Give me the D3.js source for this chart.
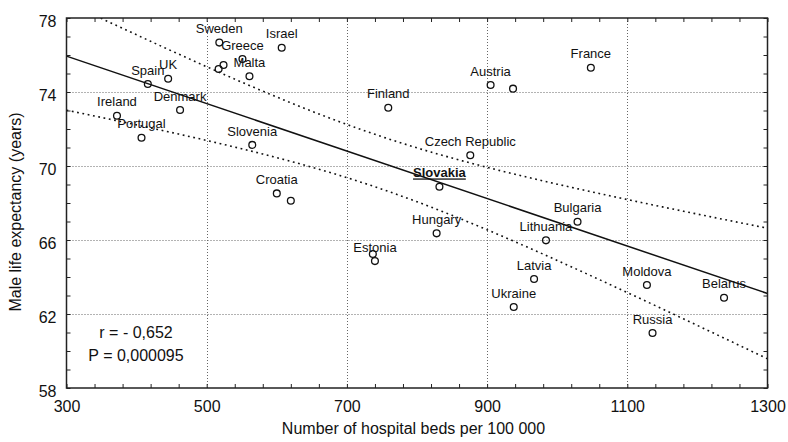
<!DOCTYPE html>
<html>
<head>
<meta charset="utf-8">
<script src="https://cdn.jsdelivr.net/npm/d3@7"></script>
<style>
  html, body { margin: 0; padding: 0; background: #fff; }
  svg { display: block; }
  text { font-family: "Liberation Sans", Arial, sans-serif; fill: #111; }
</style>
</head>
<body>
<svg id="chart" width="788" height="442"></svg>
<script>
// Hospital beds per 100 000 vs male life expectancy, one entry per country
const countries = ["Sweden", "Greece", "", "", "Malta", "Israel", "UK", "Spain", "Denmark", "Ireland",
  "Portugal", "Slovenia", "Finland", "Austria", "", "Czech Republic", "France", "Croatia", "",
  "Slovakia", "Hungary", "", "Estonia", "Bulgaria", "Lithuania", "Latvia", "Ukraine", "Moldova",
  "Belarus", "Russia"];
const beds = [518, 551, 517, 524, 561, 607, 445, 416, 462, 372,
  407, 565, 759, 905, 937, 876, 1048, 600, 620,
  832, 828, 737, 740, 1029, 984, 967, 938, 1128,
  1238, 1136];
const lifeExpectancy = [76.67, 75.78, 75.24, 75.46, 74.85, 76.39, 74.72, 74.43, 73.03, 72.72,
  71.53, 71.14, 73.15, 74.38, 74.18, 70.58, 75.31, 68.52, 68.12,
  68.88, 66.36, 65.24, 64.86, 66.99, 65.98, 63.89, 62.38, 63.57,
  62.88, 60.97];
const highlighted = "Slovakia";

const xTicks = [300, 500, 700, 900, 1100, 1300];
const yTicks = [58, 62, 66, 70, 74, 78];
const xDomain = [300, 1300];
const yDomain = [58, 78];
const statLines = ["r = - 0,652", "P = 0,000095"];
const xTitle = "Number of hospital beds per 100 000";
const yTitle = "Male life expectancy (years)";

const svg = d3.select("#chart");
const plotLeft = 66.5, plotRight = 767.5, plotTop = 18, plotBottom = 388;

const x = d3.scaleLinear().domain(xDomain).range([plotLeft, plotRight]);
const y = d3.scaleLinear().domain(yDomain).range([plotBottom, plotTop]);

// least-squares fit with a 95% confidence band for the mean
const n = beds.length;
const mx = d3.mean(beds), my = d3.mean(lifeExpectancy);
let sxx = 0, sxy = 0, syy = 0;
for (let i = 0; i < n; i++) {
  const dx = beds[i] - mx, dy = lifeExpectancy[i] - my;
  sxx += dx * dx; sxy += dx * dy; syy += dy * dy;
}
const slope = sxy / sxx;
const intercept = my - slope * mx;
const sResid = Math.sqrt((syy - slope * sxy) / (n - 2));
const tCrit = 2.048; // t(0.975, df = 28)
const fit = v => intercept + slope * v;
const halfWidth = v => tCrit * sResid * Math.sqrt(1 / n + (v - mx) * (v - mx) / sxx);
const xs = d3.range(xDomain[0], xDomain[1] + 0.001, 5);

svg.append("defs").append("clipPath").attr("id", "plotClip")
  .append("rect").attr("x", plotLeft).attr("y", plotTop)
  .attr("width", plotRight - plotLeft).attr("height", plotBottom - plotTop);

// dotted grid
const grid = svg.append("g").attr("stroke", "#666").attr("stroke-width", 1)
  .attr("stroke-dasharray", "1,2");
grid.selectAll("line.v").data(xTicks.slice(1, -1)).join("line").attr("class", "v")
  .attr("x1", d => Math.round(x(d)) + 0.5).attr("x2", d => Math.round(x(d)) + 0.5)
  .attr("y1", plotTop).attr("y2", plotBottom);
grid.selectAll("line.h").data(yTicks.slice(1, -1)).join("line").attr("class", "h")
  .attr("y1", d => Math.round(y(d)) + 0.5).attr("y2", d => Math.round(y(d)) + 0.5)
  .attr("x1", plotLeft).attr("x2", plotRight);

// fit line and confidence band
const plot = svg.append("g").attr("clip-path", "url(#plotClip)");
const line = d3.line().x(d => x(d[0])).y(d => y(d[1]));
plot.append("path")
  .attr("d", line(xDomain.map(v => [v, fit(v)])))
  .attr("fill", "none").attr("stroke", "#111").attr("stroke-width", 1.5);
[1, -1].forEach(sign => {
  plot.append("path")
    .attr("d", line(xs.map(v => [v, fit(v) + sign * halfWidth(v)])))
    .attr("fill", "none").attr("stroke", "#111").attr("stroke-width", 1.6)
    .attr("stroke-dasharray", "1.8,3.6");
});

// axes with inward ticks on all four sides
const minorX = d3.range(300, 1301, 40);
const minorY = d3.range(58, 79, 1);
svg.append("g").attr("transform", `translate(0,${plotBottom})`)
  .call(d3.axisBottom(x).tickValues(minorX).tickSize(-4).tickFormat(""))
  .call(g => g.select(".domain").remove());
svg.append("g").attr("transform", `translate(0,${plotTop})`)
  .call(d3.axisTop(x).tickValues(minorX).tickSize(-4).tickFormat(""))
  .call(g => g.select(".domain").remove());
svg.append("g").attr("transform", `translate(${plotLeft},0)`)
  .call(d3.axisLeft(y).tickValues(minorY).tickSize(-4).tickFormat(""))
  .call(g => g.select(".domain").remove());
svg.append("g").attr("transform", `translate(${plotRight},0)`)
  .call(d3.axisRight(y).tickValues(minorY).tickSize(-4).tickFormat(""))
  .call(g => g.select(".domain").remove());
svg.selectAll(".tick line").attr("stroke", "#222").attr("stroke-width", 1);

// tick labels
const xAxis = svg.append("g").attr("transform", `translate(0,${plotBottom})`)
  .call(d3.axisBottom(x).tickValues(xTicks).tickSize(0).tickPadding(13).tickFormat(d3.format("d")));
xAxis.select(".domain").remove();
xAxis.selectAll("text").attr("font-size", 16).attr("font-family", "'Liberation Sans', Arial, sans-serif")
  .attr("fill", "#111");
const yAxis = svg.append("g").attr("transform", `translate(${plotLeft},0)`)
  .call(d3.axisLeft(y).tickValues(yTicks).tickSize(0).tickPadding(10).tickFormat(d3.format("d")));
yAxis.select(".domain").remove();
yAxis.selectAll("text").attr("font-size", 16).attr("font-family", "'Liberation Sans', Arial, sans-serif")
  .attr("fill", "#111").attr("dy", "0.52em");

// frame
svg.append("rect").attr("x", plotLeft).attr("y", plotTop)
  .attr("width", plotRight - plotLeft).attr("height", plotBottom - plotTop)
  .attr("fill", "none").attr("stroke", "#222").attr("stroke-width", 1.5);

// countries
const pts = beds.map((b, i) => ({ name: countries[i], bx: b, ly: lifeExpectancy[i] }));
svg.append("g").selectAll("circle").data(pts).join("circle")
  .attr("cx", d => x(d.bx)).attr("cy", d => y(d.ly)).attr("r", 3.4)
  .attr("fill", "none").attr("stroke", "#111").attr("stroke-width", 1.3);
const labels = svg.append("g").attr("font-size", 13).attr("text-anchor", "middle");
labels.selectAll("text").data(pts.filter(d => d.name)).join("text")
  .attr("x", d => x(d.bx)).attr("y", d => y(d.ly) - 9.3)
  .attr("font-weight", d => d.name === highlighted ? "bold" : null)
  .attr("text-decoration", d => d.name === highlighted ? "underline" : null)
  .text(d => d.name);

// statistics
svg.append("g").attr("font-size", 16).attr("text-anchor", "middle")
  .selectAll("text").data(statLines).join("text")
  .attr("x", 136).attr("y", (d, i) => 338 + i * 23)
  .text(d => d);

// axis titles
svg.append("text").attr("x", 413.5).attr("y", 434).attr("text-anchor", "middle")
  .attr("font-size", 16).text(xTitle);
svg.append("text").attr("transform", "translate(21,212) rotate(-90)")
  .attr("text-anchor", "middle").attr("font-size", 16).text(yTitle);
</script>
</body>
</html>
